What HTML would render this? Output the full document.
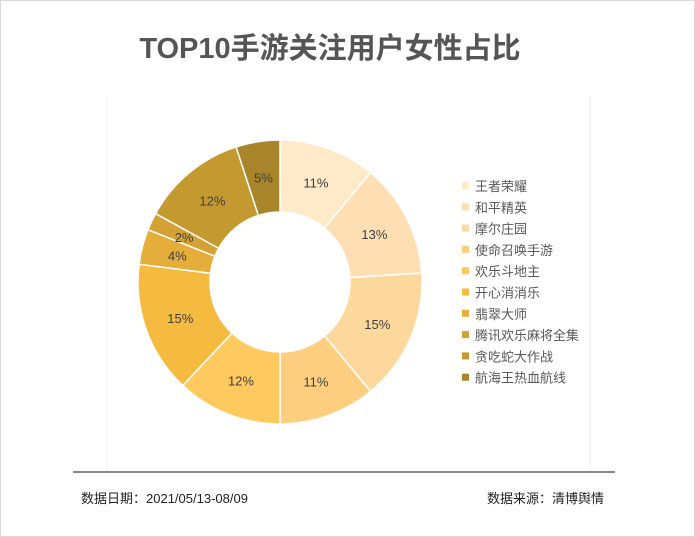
<!DOCTYPE html>
<html><head><meta charset="utf-8"><style>
body{margin:0;width:695px;height:537px;background:#fff;overflow:hidden;font-family:"Liberation Sans","Noto Sans CJK SC",sans-serif;}
#frame{position:absolute;left:0;top:0;width:693px;height:535px;border:1px solid #d9d9d9;}
</style></head><body>
<div id="frame"></div>
<svg width="695" height="537" style="position:absolute;left:0;top:0">
<text x="330" y="58" text-anchor="middle" font-size="29" font-weight="bold" fill="#555">TOP10手游关注用户女性占比</text>
<line x1="107" y1="95" x2="107" y2="470" stroke="#f2f2f2"/>
<line x1="590" y1="95" x2="590" y2="470" stroke="#f2f2f2"/>
<g id="pie"></g>
<g id="legend"></g>
<line x1="73" y1="472" x2="615" y2="472" stroke="#404040" stroke-width="1.3"/>
<text x="81" y="503" font-size="13" fill="#222">数据日期：2021/05/13-08/09</text>
<text x="604" y="503" font-size="13" fill="#222" text-anchor="end">数据来源：清博舆情</text>
</svg>
<script>
const categories=["王者荣耀","和平精英","摩尔庄园","使命召唤手游","欢乐斗地主","开心消消乐","翡翠大师","腾讯欢乐麻将全集","贪吃蛇大作战","航海王热血航线"];
const values=[11,13,15,11,12,15,4,2,12,5];
const colors=["#FEE9C8","#FDDFB3","#FDD89C","#FECE80","#FEC95F","#F5BB40","#E5AD3A","#D4A234","#C49A30","#A8842A"];
const NS="http://www.w3.org/2000/svg";
const cx=280,cy=282,R=142,r0=70;
const pie=document.getElementById('pie'),leg=document.getElementById('legend');
const total=values.reduce((a,b)=>a+b,0);
let a=-Math.PI/2;
function pt(rad,ang){return [cx+rad*Math.cos(ang),cy+rad*Math.sin(ang)];}
values.forEach((v,i)=>{
 const da=v/total*2*Math.PI,b=a+da,lg=da>Math.PI?1:0;
 const p1=pt(R,a),p2=pt(R,b),p3=pt(r0,b),p4=pt(r0,a);
 const p=document.createElementNS(NS,'path');
 p.setAttribute('d',`M${p1}A${R},${R} 0 ${lg} 1 ${p2}L${p3}A${r0},${r0} 0 ${lg} 0 ${p4}Z`);
 p.setAttribute('fill',colors[i]);p.setAttribute('stroke','#fff');p.setAttribute('stroke-width','1.5');
 
 
 pie.appendChild(p);
 const m=pt((R+r0)/2,a+da/2);
 const t=document.createElementNS(NS,'text');
 t.setAttribute('x',m[0]);t.setAttribute('y',m[1]+5);t.setAttribute('text-anchor','middle');
 t.setAttribute('font-size','13');t.setAttribute('fill','#404040');
 t.textContent=Math.round(v/total*100)+'%';
 
 
 pie.appendChild(t);
 a=b;
});
categories.forEach((c,i)=>{
 const y=187+i*21.3;
 const g=document.createElementNS(NS,'g');
 
 
 const s=document.createElementNS(NS,'rect');
 s.setAttribute('x',462);s.setAttribute('y',y-5);s.setAttribute('width',7);s.setAttribute('height',7);s.setAttribute('fill',colors[i]);
 const t=document.createElementNS(NS,'text');
 t.setAttribute('x',475);t.setAttribute('y',y+4);t.setAttribute('font-size','13');t.setAttribute('fill','#595959');
 t.textContent=c;
 g.appendChild(s);g.appendChild(t);leg.appendChild(g);
});
</script>
</body></html>
